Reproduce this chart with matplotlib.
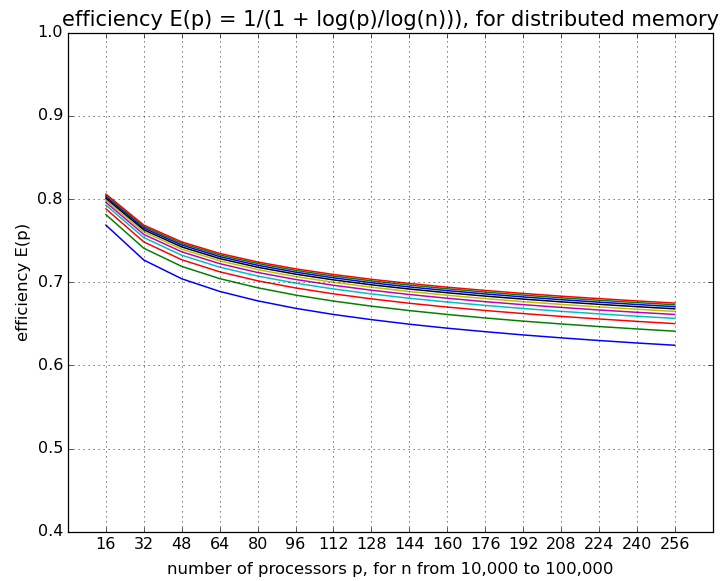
import matplotlib
matplotlib.use("Agg")
import matplotlib.pyplot as plt

plt.style.use("classic")

processors = [16, 32, 48, 64, 80, 96, 112, 128, 144, 160, 176, 192, 208, 224, 240, 256]
n_values = [10000, 20000, 30000, 40000, 50000, 60000, 70000, 80000, 90000, 100000]

eff_n10000 = [0.7686, 0.7266, 0.7041, 0.6889, 0.6776, 0.6686, 0.6612, 0.6550, 0.6495, 0.6447, 0.6405, 0.6366, 0.6331, 0.6299, 0.6269, 0.6242]
eff_n20000 = [0.7813, 0.7408, 0.7190, 0.7043, 0.6933, 0.6845, 0.6773, 0.6712, 0.6659, 0.6612, 0.6570, 0.6532, 0.6498, 0.6467, 0.6438, 0.6411]
eff_n30000 = [0.7881, 0.7484, 0.7270, 0.7125, 0.7017, 0.6931, 0.6860, 0.6800, 0.6747, 0.6701, 0.6660, 0.6623, 0.6589, 0.6558, 0.6529, 0.6502]
eff_n40000 = [0.7926, 0.7536, 0.7324, 0.7181, 0.7074, 0.6989, 0.6919, 0.6859, 0.6807, 0.6762, 0.6721, 0.6684, 0.6650, 0.6619, 0.6591, 0.6565]
eff_n50000 = [0.7960, 0.7574, 0.7365, 0.7223, 0.7117, 0.7033, 0.6963, 0.6904, 0.6852, 0.6807, 0.6766, 0.6730, 0.6697, 0.6666, 0.6638, 0.6612]
eff_n60000 = [0.7987, 0.7605, 0.7397, 0.7257, 0.7152, 0.7068, 0.6999, 0.6940, 0.6888, 0.6843, 0.6803, 0.6766, 0.6733, 0.6703, 0.6675, 0.6649]
eff_n70000 = [0.8009, 0.7630, 0.7424, 0.7284, 0.7180, 0.7097, 0.7028, 0.6969, 0.6918, 0.6873, 0.6833, 0.6797, 0.6764, 0.6734, 0.6706, 0.6680]
eff_n80000 = [0.8028, 0.7651, 0.7447, 0.7308, 0.7204, 0.7121, 0.7053, 0.6994, 0.6943, 0.6899, 0.6859, 0.6823, 0.6790, 0.6760, 0.6732, 0.6706]
eff_n90000 = [0.8045, 0.7670, 0.7466, 0.7328, 0.7225, 0.7142, 0.7074, 0.7016, 0.6965, 0.6921, 0.6881, 0.6845, 0.6812, 0.6783, 0.6755, 0.6729]
eff_n100000 = [0.8059, 0.7686, 0.7484, 0.7346, 0.7243, 0.7161, 0.7093, 0.7035, 0.6985, 0.6940, 0.6901, 0.6865, 0.6832, 0.6803, 0.6775, 0.6749]

series = [eff_n10000, eff_n20000, eff_n30000, eff_n40000, eff_n50000,
          eff_n60000, eff_n70000, eff_n80000, eff_n90000, eff_n100000]

plt.rcParams["font.family"] = ["DejaVu Sans"]

fig = plt.figure(figsize=(721 / 90, 581 / 90), dpi=90)
ax = fig.add_axes([68 / 721, 1 - 531.7 / 581, (712.7 - 68) / 721, (531.7 - 32.7) / 581])

for vals in series:
    ax.plot(processors, vals, lw=1.2)

ax.set_xlim(0, 272)
ax.set_ylim(0.4, 1.0)
ax.set_xticks(processors)
ax.set_yticks([0.4, 0.5, 0.6, 0.7, 0.8, 0.9, 1.0])
ax.tick_params(labelsize=12.8)
ax.grid(True)
ax.set_title("efficiency E(p) = 1/(1 + log(p)/log(n))), for distributed memory", fontsize=16.8)
ax.set_xlabel("number of processors p, for n from 10,000 to 100,000", fontsize=13.2, labelpad=8)
ax.set_ylabel("efficiency E(p)", fontsize=13.2)

fig.savefig("out.png", dpi=90)
